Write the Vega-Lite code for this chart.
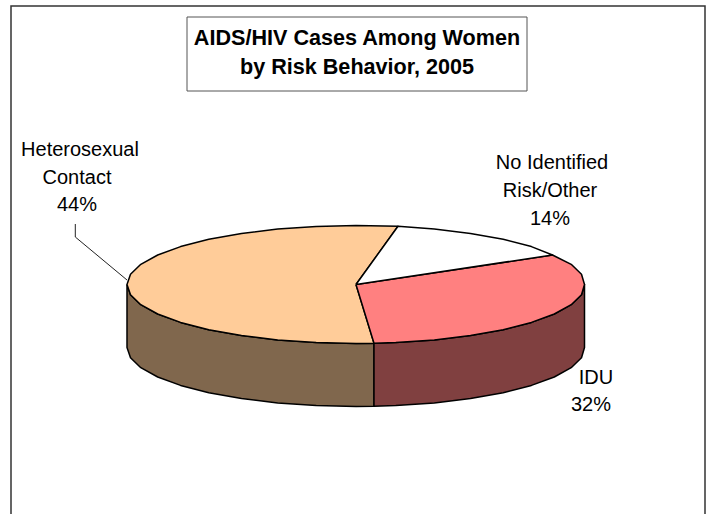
{"$schema":"https://vega.github.io/schema/vega-lite/v6.json","width":707,"height":514,"padding":0,"autosize":"none","background":"white","view":{"stroke":null},
"datasets":{"pie":[
{"part":"Heterosexual side","i":0,"x":127,"y":284.5},{"part":"Heterosexual side","i":1,"x":130.5,"y":294.7},{"part":"Heterosexual side","i":2,"x":140.8,"y":304.7},{"part":"Heterosexual side","i":3,"x":157.7,"y":314},{"part":"Heterosexual side","i":4,"x":180.6,"y":322.4},{"part":"Heterosexual side","i":5,"x":208.8,"y":329.7},{"part":"Heterosexual side","i":6,"x":241.5,"y":335.6},{"part":"Heterosexual side","i":7,"x":277.7,"y":339.9},{"part":"Heterosexual side","i":8,"x":316.2,"y":342.6},{"part":"Heterosexual side","i":9,"x":356,"y":343.5},{"part":"Heterosexual side","i":10,"x":374,"y":343.3},{"part":"Heterosexual side","i":11,"x":374,"y":406.3},{"part":"Heterosexual side","i":12,"x":356,"y":406.5},{"part":"Heterosexual side","i":13,"x":316.2,"y":405.6},{"part":"Heterosexual side","i":14,"x":277.7,"y":402.9},{"part":"Heterosexual side","i":15,"x":241.5,"y":398.6},{"part":"Heterosexual side","i":16,"x":208.8,"y":392.7},{"part":"Heterosexual side","i":17,"x":180.6,"y":385.4},{"part":"Heterosexual side","i":18,"x":157.7,"y":377},{"part":"Heterosexual side","i":19,"x":140.8,"y":367.7},{"part":"Heterosexual side","i":20,"x":130.5,"y":357.7},{"part":"Heterosexual side","i":21,"x":127,"y":347.5},{"part":"Heterosexual side","i":22,"x":127,"y":284.5},
{"part":"IDU side","i":0,"x":374,"y":343.3},{"part":"IDU side","i":1,"x":395.8,"y":342.6},{"part":"IDU side","i":2,"x":434.3,"y":339.9},{"part":"IDU side","i":3,"x":470.5,"y":335.6},{"part":"IDU side","i":4,"x":503.2,"y":329.7},{"part":"IDU side","i":5,"x":531.4,"y":322.4},{"part":"IDU side","i":6,"x":554.3,"y":314},{"part":"IDU side","i":7,"x":571.2,"y":304.7},{"part":"IDU side","i":8,"x":581.5,"y":294.7},{"part":"IDU side","i":9,"x":584.5,"y":284.5},{"part":"IDU side","i":10,"x":584.5,"y":347.5},{"part":"IDU side","i":11,"x":581.5,"y":357.7},{"part":"IDU side","i":12,"x":571.2,"y":367.7},{"part":"IDU side","i":13,"x":554.3,"y":377},{"part":"IDU side","i":14,"x":531.4,"y":385.4},{"part":"IDU side","i":15,"x":503.2,"y":392.7},{"part":"IDU side","i":16,"x":470.5,"y":398.6},{"part":"IDU side","i":17,"x":434.3,"y":402.9},{"part":"IDU side","i":18,"x":395.8,"y":405.6},{"part":"IDU side","i":19,"x":374,"y":406.3},{"part":"IDU side","i":20,"x":374,"y":343.3},
{"part":"Heterosexual Contact","i":0,"x":356,"y":284.5},{"part":"Heterosexual Contact","i":1,"x":398,"y":226.3},{"part":"Heterosexual Contact","i":2,"x":356,"y":225.5},{"part":"Heterosexual Contact","i":3,"x":316.2,"y":226.4},{"part":"Heterosexual Contact","i":4,"x":277.7,"y":229.1},{"part":"Heterosexual Contact","i":5,"x":241.5,"y":233.4},{"part":"Heterosexual Contact","i":6,"x":208.8,"y":239.3},{"part":"Heterosexual Contact","i":7,"x":180.6,"y":246.6},{"part":"Heterosexual Contact","i":8,"x":157.7,"y":255},{"part":"Heterosexual Contact","i":9,"x":140.8,"y":264.3},{"part":"Heterosexual Contact","i":10,"x":130.5,"y":274.3},{"part":"Heterosexual Contact","i":11,"x":127,"y":284.5},{"part":"Heterosexual Contact","i":12,"x":130.5,"y":294.7},{"part":"Heterosexual Contact","i":13,"x":140.8,"y":304.7},{"part":"Heterosexual Contact","i":14,"x":157.7,"y":314},{"part":"Heterosexual Contact","i":15,"x":180.6,"y":322.4},{"part":"Heterosexual Contact","i":16,"x":208.8,"y":329.7},{"part":"Heterosexual Contact","i":17,"x":241.5,"y":335.6},{"part":"Heterosexual Contact","i":18,"x":277.7,"y":339.9},{"part":"Heterosexual Contact","i":19,"x":316.2,"y":342.6},{"part":"Heterosexual Contact","i":20,"x":356,"y":343.5},{"part":"Heterosexual Contact","i":21,"x":374,"y":343.3},{"part":"Heterosexual Contact","i":22,"x":356,"y":284.5},
{"part":"IDU","i":0,"x":356,"y":284.5},{"part":"IDU","i":1,"x":374,"y":343.3},{"part":"IDU","i":2,"x":395.8,"y":342.6},{"part":"IDU","i":3,"x":434.3,"y":339.9},{"part":"IDU","i":4,"x":470.5,"y":335.6},{"part":"IDU","i":5,"x":503.2,"y":329.7},{"part":"IDU","i":6,"x":531.4,"y":322.4},{"part":"IDU","i":7,"x":554.3,"y":314},{"part":"IDU","i":8,"x":571.2,"y":304.7},{"part":"IDU","i":9,"x":581.5,"y":294.7},{"part":"IDU","i":10,"x":584.5,"y":284.5},{"part":"IDU","i":11,"x":581.5,"y":274.3},{"part":"IDU","i":12,"x":571.2,"y":264.3},{"part":"IDU","i":13,"x":552.5,"y":255},{"part":"IDU","i":14,"x":356,"y":284.5},
{"part":"No Identified Risk/Other","i":0,"x":356,"y":284.5},{"part":"No Identified Risk/Other","i":1,"x":552.5,"y":255},{"part":"No Identified Risk/Other","i":2,"x":531.4,"y":246.6},{"part":"No Identified Risk/Other","i":3,"x":503.2,"y":239.3},{"part":"No Identified Risk/Other","i":4,"x":470.5,"y":233.4},{"part":"No Identified Risk/Other","i":5,"x":434.3,"y":229.1},{"part":"No Identified Risk/Other","i":6,"x":398,"y":226.3},{"part":"No Identified Risk/Other","i":7,"x":356,"y":284.5}
],
"frame":[{"i":0,"x":11,"y":514},{"i":1,"x":11,"y":6},{"i":2,"x":705,"y":6},{"i":3,"x":705,"y":514}],
"leader":[{"i":0,"x":75.3,"y":224},{"i":1,"x":75.3,"y":237},{"i":2,"x":127,"y":280}],
"labels":[
{"text":"Heterosexual","x":80,"y":156},{"text":"Contact","x":77,"y":184},{"text":"44%","x":77,"y":211},
{"text":"No Identified","x":552,"y":169},{"text":"Risk/Other","x":550,"y":197},{"text":"14%","x":550,"y":224.5},
{"text":"IDU","x":596,"y":384},{"text":"32%","x":591,"y":411}],
"title":[{"text":"AIDS/HIV Cases Among Women","x":357,"y":45},{"text":"by Risk Behavior, 2005","x":357,"y":73.5}],
"box":[{"x":187,"x2":527,"y":17,"y2":91}]},
"encoding":{
"x":{"field":"x","type":"quantitative","axis":null,"scale":{"domain":[0,707]}},
"y":{"field":"y","type":"quantitative","axis":null,"scale":{"domain":[514,0]}}},
"layer":[
{"data":{"name":"frame"},"mark":{"type":"line","stroke":"#333333","strokeWidth":1.5},"encoding":{"order":{"field":"i"}}},
{"data":{"name":"box"},"mark":{"type":"rect","fill":"white","stroke":"#555555","strokeWidth":1},"encoding":{"x2":{"field":"x2"},"y2":{"field":"y2"}}},
{"data":{"name":"title"},"mark":{"type":"text","font":"Liberation Sans","fontWeight":"bold","fontSize":21.6,"align":"center","baseline":"alphabetic","color":"black"},"encoding":{"text":{"field":"text"}}},
{"data":{"name":"leader"},"mark":{"type":"line","stroke":"#222222","strokeWidth":1},"encoding":{"order":{"field":"i"}}},
{"data":{"name":"pie"},"mark":{"type":"line","filled":true,"stroke":"black","strokeWidth":1.5,"strokeJoin":"round"},"encoding":{"order":{"field":"i"},"detail":{"field":"part"},"fill":{"field":"part","type":"nominal","legend":null,"scale":{"domain":["Heterosexual side","IDU side","Heterosexual Contact","IDU","No Identified Risk/Other"],"range":["#80674D","#804040","#FFCC99","#FF8080","#FFFFFF"]}}}},
{"data":{"name":"labels"},"mark":{"type":"text","font":"Liberation Sans","fontSize":20,"align":"center","baseline":"alphabetic","color":"black"},"encoding":{"text":{"field":"text"}}}
]}
